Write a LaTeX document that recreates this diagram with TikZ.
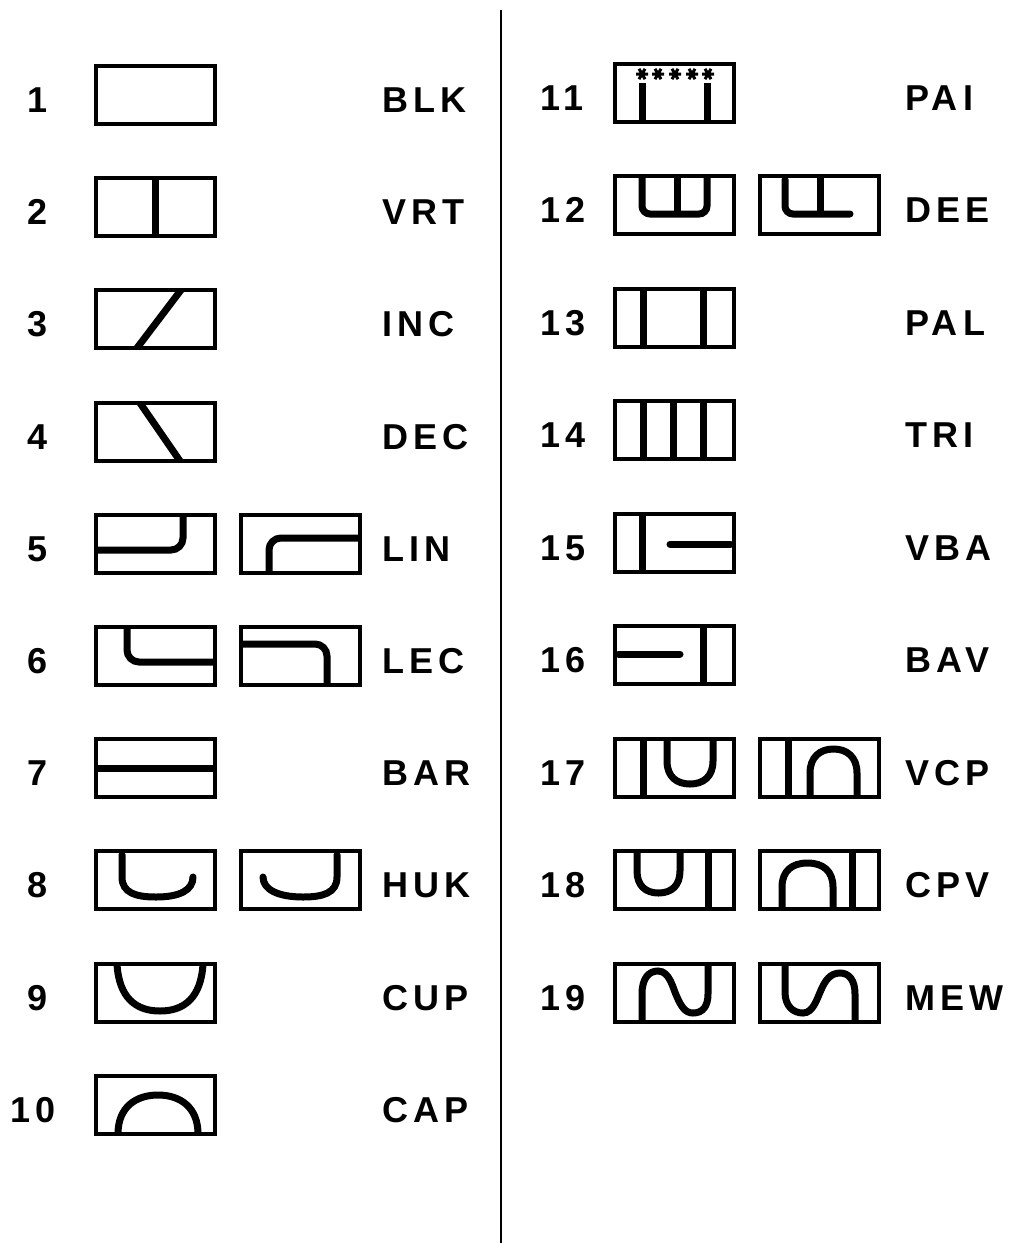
\documentclass[tikz,border=0pt]{standalone}
\usepackage{fontspec}
\newfontfamily\lettering[LetterSpace=15]{Liberation Sans}
\newcommand{\tagfont}{\lettering\bfseries\fontsize{36}{40}\selectfont}
\tikzset{
  cell/.style={draw,line width=3.8pt},
  groove/.style={line width=7pt},
  grooveround/.style={line width=7pt,line cap=round},
  rule/.style={line width=2pt},
  num/.style={inner sep=0,font=\tagfont},
  tag/.style={inner sep=0,anchor=west,font=\tagfont}
}
\begin{document}
\begin{tikzpicture}[x=1pt,y=-1pt]
\useasboundingbox (0,0) rectangle (1010,1243);
\draw[rule] (501,10) -- (501,1243);

% left column
\node[num] (n1) at (38,100) {1};
\draw[cell] (96,66) rectangle ++(119,58);
\node[tag] (t1) at (382,100) {BLK};

\node[num] (n2) at (38,212) {2};
\begin{scope}[shift={(96,178)}]
\draw[cell] (0,0) rectangle (119,58);
\draw[groove] (59.5,0) -- (59.5,58);
\end{scope}
\node[tag] (t2) at (382,212) {VRT};

\node[num] (n3) at (38,324) {3};
\begin{scope}[shift={(96,290)}]
\draw[cell] (0,0) rectangle (119,58);
\draw[groove] (41,58) -- (85,0);
\end{scope}
\node[tag] (t3) at (382,324) {INC};

\node[num] (n4) at (38,437) {4};
\begin{scope}[shift={(96,403)}]
\draw[cell] (0,0) rectangle (119,58);
\draw[groove] (44,0) -- (84,58);
\end{scope}
\node[tag] (t4) at (382,437) {DEC};

\node[num] (n5) at (38,549) {5};
\begin{scope}[shift={(96,515)}]
\draw[cell] (0,0) rectangle (119,58);
\draw[groove,rounded corners=12pt] (0,35) -| (87,0);
\end{scope}
\begin{scope}[shift={(241,515)}]
\draw[cell] (0,0) rectangle (119,58);
\draw[groove,rounded corners=12pt] (119,23) -| (28,58);
\end{scope}
\node[tag] (t5) at (382,549) {LIN};

\node[num] (n6) at (38,661) {6};
\begin{scope}[shift={(96,627)}]
\draw[cell] (0,0) rectangle (119,58);
\draw[groove,rounded corners=12pt] (31,0) |- (119,35);
\end{scope}
\begin{scope}[shift={(241,627)}]
\draw[cell] (0,0) rectangle (119,58);
\draw[groove,rounded corners=12pt] (0,17) -| (86,58);
\end{scope}
\node[tag] (t6) at (382,661) {LEC};

\node[num] (n7) at (38,773) {7};
\begin{scope}[shift={(96,739)}]
\draw[cell] (0,0) rectangle (119,58);
\draw[groove] (0,29) -- (119,29);
\end{scope}
\node[tag] (t7) at (382,773) {BAR};

\node[num] (n8) at (38,885) {8};
\begin{scope}[shift={(96,851)}]
\draw[cell] (0,0) rectangle (119,58);
\draw[grooveround] (26,3.5) -- (26,26) .. controls (26,42) and (40,46) .. (60,46)
  .. controls (84,46) and (97,39) .. (97,26);
\end{scope}
\begin{scope}[shift={(241,851)}]
\draw[cell] (0,0) rectangle (119,58);
\draw[grooveround] (96,3.5) -- (96,26) .. controls (96,42) and (82,46) .. (62,46)
  .. controls (38,46) and (22,39) .. (22,26);
\end{scope}
\node[tag] (t8) at (382,885) {HUK};

\node[num] (n9) at (38,998) {9};
\begin{scope}[shift={(96,964)}]
\draw[cell] (0,0) rectangle (119,58);
\draw[groove] (21,0) .. controls (23,34) and (40,47) .. (64,47)
  .. controls (88,47) and (105,34) .. (107,0);
\end{scope}
\node[tag] (t9) at (382,998) {CUP};

\node[num] (n10) at (33,1110) {10};
\begin{scope}[shift={(96,1076)}]
\draw[cell] (0,0) rectangle (119,58);
\draw[groove] (22,58) .. controls (22,31) and (40,19) .. (62,19)
  .. controls (84,19) and (102,31) .. (102,58);
\end{scope}
\node[tag] (t10) at (382,1110) {CAP};

% right column
\node[num,anchor=west] (n11) at (540,98) {11};
\begin{scope}[shift={(615,64)}]
\draw[cell] (0,0) rectangle (119,58);
\foreach \ax in {27,43,60,77,93}
  \draw[line width=3pt] (\ax,10) ++(0:6) -- ++(180:12)
    (\ax,10) ++(60:6) -- ++(240:12) (\ax,10) ++(120:6) -- ++(300:12);
\draw[groove] (27,19) -- (27,58);
\draw[groove] (92,19) -- (92,58);
\end{scope}
\node[tag] (t11) at (905,98) {PAI};

\node[num,anchor=west] (n12) at (540,210) {12};
\begin{scope}[shift={(615,176)}]
\draw[cell] (0,0) rectangle (119,58);
\draw[groove,rounded corners=8pt] (27,0) -- (27,38) -- (92,38) -- (92,0);
\draw[groove] (62,0) -- (62,38);
\end{scope}
\begin{scope}[shift={(760,176)}]
\draw[cell] (0,0) rectangle (119,58);
\draw[grooveround,rounded corners=8pt] (25,3.5) |- (90,38);
\draw[groove] (60,0) -- (60,38);
\end{scope}
\node[tag] (t12) at (905,210) {DEE};

\node[num,anchor=west] (n13) at (540,323) {13};
\begin{scope}[shift={(615,289)}]
\draw[cell] (0,0) rectangle (119,58);
\draw[groove] (28,0) -- (28,58);
\draw[groove] (88,0) -- (88,58);
\end{scope}
\node[tag] (t13) at (905,323) {PAL};

\node[num,anchor=west] (n14) at (540,435) {14};
\begin{scope}[shift={(615,401)}]
\draw[cell] (0,0) rectangle (119,58);
\draw[groove] (28,0) -- (28,58);
\draw[groove] (58,0) -- (58,58);
\draw[groove] (88,0) -- (88,58);
\end{scope}
\node[tag] (t14) at (905,435) {TRI};

\node[num,anchor=west] (n15) at (540,548) {15};
\begin{scope}[shift={(615,514)}]
\draw[cell] (0,0) rectangle (119,58);
\draw[groove] (27,0) -- (27,58);
\draw[grooveround] (55,30) -- (115.5,30);
\end{scope}
\node[tag] (t15) at (905,548) {VBA};

\node[num,anchor=west] (n16) at (540,660) {16};
\begin{scope}[shift={(615,626)}]
\draw[cell] (0,0) rectangle (119,58);
\draw[grooveround] (3.5,28) -- (65,28);
\draw[groove] (88,0) -- (88,58);
\end{scope}
\node[tag] (t16) at (905,660) {BAV};

\node[num,anchor=west] (n17) at (540,773) {17};
\begin{scope}[shift={(615,739)}]
\draw[cell] (0,0) rectangle (119,58);
\draw[groove] (28,0) -- (28,58);
\draw[groove] (52,0) -- (52,22) .. controls (52,38) and (62,45) .. (75,45)
  .. controls (88,45) and (98,38) .. (98,22) -- (98,0);
\end{scope}
\begin{scope}[shift={(760,739)}]
\draw[cell] (0,0) rectangle (119,58);
\draw[groove] (28,0) -- (28,58);
\draw[groove] (50,58) -- (50,34) .. controls (50,18) and (60,10) .. (73.5,10)
  .. controls (87,10) and (97,18) .. (97,34) -- (97,58);
\end{scope}
\node[tag] (t17) at (905,773) {VCP};

\node[num,anchor=west] (n18) at (540,885) {18};
\begin{scope}[shift={(615,851)}]
\draw[cell] (0,0) rectangle (119,58);
\draw[groove] (22,0) -- (22,20) .. controls (22,34) and (30,42) .. (43.5,42)
  .. controls (57,42) and (65,34) .. (65,20) -- (65,0);
\draw[groove] (93,0) -- (93,58);
\end{scope}
\begin{scope}[shift={(760,851)}]
\draw[cell] (0,0) rectangle (119,58);
\draw[groove] (22,58) -- (22,36) .. controls (22,20) and (32,12) .. (47.5,12)
  .. controls (63,12) and (73,20) .. (73,36) -- (73,58);
\draw[groove] (92,0) -- (92,58);
\end{scope}
\node[tag] (t18) at (905,885) {CPV};

\node[num,anchor=west] (n19) at (540,998) {19};
\begin{scope}[shift={(615,964)}]
\draw[cell] (0,0) rectangle (119,58);
\draw[groove] (27,58) -- (27,30) .. controls (27,14) and (34,7) .. (43,7)
  .. controls (55,7) and (58,25) .. (62,33) .. controls (66,42) and (70,49) .. (78,49)
  .. controls (88,49) and (93,42) .. (93,30) -- (93,0);
\end{scope}
\begin{scope}[shift={(760,964)}]
\draw[cell] (0,0) rectangle (119,58);
\draw[groove] (25,0) -- (25,28) .. controls (25,42) and (33,49) .. (43,49)
  .. controls (53,49) and (57,35) .. (61,26) .. controls (65,17) and (70,9) .. (80,9)
  .. controls (89,9) and (95,16) .. (95,30) -- (95,58);
\end{scope}
\node[tag] (t19) at (905,998) {MEW};
\end{tikzpicture}
\end{document}
